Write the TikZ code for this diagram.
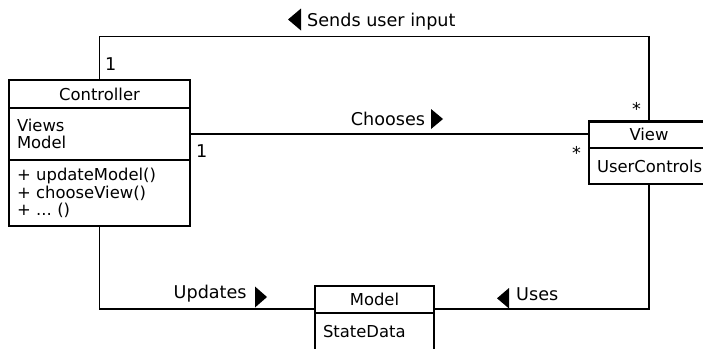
\documentclass[tikz,border=0pt]{standalone}
\usepackage{fontspec}
\setmainfont{DejaVu Sans}
\frenchspacing
\usetikzlibrary{positioning}

\tikzset{
  clspart/.style={draw, line width=2.2pt, outer sep=0pt, inner xsep=8pt, inner ysep=0pt,
    font=\fontsize{16.4}{17.5}\selectfont},
  clsname/.style={clspart, align=center},
  clsbody/.style={clspart, align=left},
  assoc/.style={line width=1.8pt},
  lbl/.style={anchor=base west, inner sep=0pt, font=\fontsize{17.6}{20}\selectfont},
}

\begin{document}
\begin{tikzpicture}[x=1pt, y=-1pt]
  \useasboundingbox (0,0) rectangle (703,348);
  \clip (0,0) rectangle (703,348);
  % Controller class
  \node[clsname, text width=165pt, minimum height=28pt, anchor=north west] (ctrlname) at (9,80) {Controller\hspace*{14pt}};
  \node[clsbody, text width=165pt, minimum height=52pt, below=0pt of ctrlname] (ctrlattr) {Views\\Model};
  \node[clsbody, text width=165pt, minimum height=66pt, below=0pt of ctrlattr] (ctrlmeth) {+ updateModel()\\+ chooseView()\\+ ... ()};
  % View class
  \node[clsname, text width=104pt, minimum height=26.5pt, anchor=north west] (viewname) at (589,121.5) {View};
  \node[clsbody, text width=104pt, minimum height=36pt, below=0pt of viewname] (viewattr) {UserControls};
  % Model class
  \node[clsname, text width=103pt, minimum height=27pt, anchor=north west] (modelname) at (315,286) {Model};
  \node[clsbody, text width=103pt, minimum height=37pt, below=0pt of modelname] (modelattr) {StateData};

  % associations
  \draw[assoc] (ctrlname.north) -- ++(0,-43.5) -| (viewname.north);
  \draw[assoc] (ctrlattr.east) -- (ctrlattr.east -| viewname.west);
  \draw[assoc] (ctrlmeth.south) |- ([yshift=4pt]modelname.south west);
  \draw[assoc] (viewattr.south) |- ([yshift=4pt]modelname.south east);

  % association names + direction marks
  \node[lbl] (sends) at (307,26.7) {Sends user input};
  \fill (288,19.5) -- (301,8.5) -- (301,30.5) -- cycle;
  \node[lbl] (chooses) at (350.7,125) {Chooses};
  \fill (443,119) -- (431,109) -- (431,129) -- cycle;
  \node[lbl] (updates) at (173.5,298.3) {Updates};
  \fill (267,297) -- (255,286.5) -- (255,307.5) -- cycle;
  \node[lbl] (uses) at (516,300) {Uses};
  \fill (497,298.3) -- (509,288) -- (509,308.5) -- cycle;

  % multiplicities
  \node[lbl] (multctrltop) at (105,70) {1};
  \node[lbl] (multctrlside) at (196,157) {1};
  \node[lbl] (multviewtop) at (632,115) {*};
  \node[lbl] (multviewside) at (572,159) {*};
\end{tikzpicture}
\end{document}
